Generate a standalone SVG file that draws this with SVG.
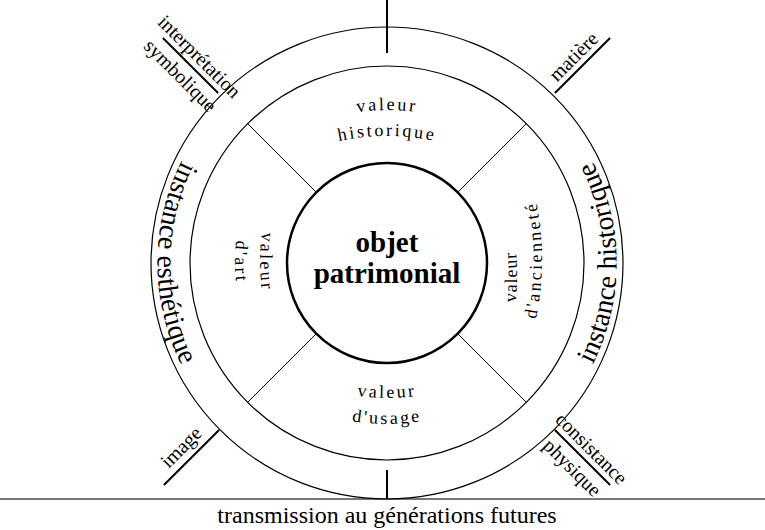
<svg xmlns="http://www.w3.org/2000/svg" width="765" height="530" viewBox="0 0 765 530">
  <style>
    text { font-family: "Liberation Serif", "Times New Roman", serif; fill: #000; }
    .ring { fill: none; stroke: #000; stroke-width: 1.2; }
    .core { fill: #fff; stroke: #000; stroke-width: 2.5; }
    .div { stroke: #000; stroke-width: 1; }
    .axis { stroke: #000; stroke-width: 2; }
    .tick { stroke: #000; stroke-width: 2; }
    .base { stroke: #777; stroke-width: 2; }
    .big { font-size: 28px; }
    .sec { font-size: 18px; letter-spacing: 2.5px; }
    .tight { letter-spacing: 1px; }
    .corner { font-size: 20px; text-anchor: middle; }
    .core-t { font-size: 29px; font-weight: bold; text-anchor: middle; }
  </style>
  <defs>
    <path id="pLeft" d="M 217 109.3 A 228 228 0 0 0 217 416.7"/>
    <path id="pRight" d="M 557 416.7 A 228 228 0 0 0 557 109.3"/>
    <path id="pTop1" d="M 307 126.7 A 200 200 0 0 1 467 126.7"/>
    <path id="pTop2" d="M 297 154.3 A 230 230 0 0 1 477 154.3"/>
    <path id="pBot1" d="M 307 382.9 A 220 220 0 0 0 467 382.9"/>
    <path id="pBot2" d="M 307 408.9 A 220 220 0 0 0 467 408.9"/>
    <path id="pL1" d="M 275.1 182 A 220 220 0 0 0 275.1 342"/>
    <path id="pL2" d="M 250.1 182 A 220 220 0 0 0 250.1 342"/>
    <path id="pR1" d="M 506.1 357 A 300 300 0 0 0 506.1 197"/>
    <path id="pR2" d="M 531.1 340 A 300 300 0 0 0 531.1 180"/>
  </defs>

  <g id="connectors">
    <line class="base" x1="0" y1="499" x2="765" y2="499"/>
    <line class="axis" x1="387" y1="0" x2="387" y2="53"/>
    <line class="axis" x1="387" y1="470" x2="387" y2="499"/>
    <line class="div" x1="316.3" y1="192.3" x2="247.7" y2="123.7"/>
    <line class="div" x1="457.7" y1="192.3" x2="526.3" y2="123.7"/>
    <line class="div" x1="316.3" y1="333.7" x2="247.7" y2="402.3"/>
    <line class="div" x1="457.7" y1="333.7" x2="526.3" y2="402.3"/>
  </g>

  <g id="outer-ring">
    <circle class="ring" cx="387" cy="263" r="236"/>
    <text class="big"><textPath href="#pLeft" startOffset="50%" text-anchor="middle">instance esthétique</textPath></text>
    <text class="big"><textPath href="#pRight" startOffset="50%" text-anchor="middle">instance historique</textPath></text>
  </g>

  <g id="middle-ring">
    <circle class="ring" cx="387" cy="263" r="197"/>
  </g>

  <g id="valeur-historique">
    <text class="sec"><textPath href="#pTop1" startOffset="50%" text-anchor="middle">valeur</textPath></text>
    <text class="sec"><textPath href="#pTop2" startOffset="50%" text-anchor="middle">historique</textPath></text>
  </g>
  <g id="valeur-usage">
    <text class="sec"><textPath href="#pBot1" startOffset="50%" text-anchor="middle">valeur</textPath></text>
    <text class="sec"><textPath href="#pBot2" startOffset="50%" text-anchor="middle">d'usage</textPath></text>
  </g>
  <g id="valeur-art">
    <text class="sec"><textPath href="#pL1" startOffset="50%" text-anchor="middle">valeur</textPath></text>
    <text class="sec"><textPath href="#pL2" startOffset="50%" text-anchor="middle">d'art</textPath></text>
  </g>
  <g id="valeur-anciennete">
    <text class="sec tight"><textPath href="#pR1" startOffset="50%" text-anchor="middle">valeur</textPath></text>
    <text class="sec"><textPath href="#pR2" startOffset="50%" text-anchor="middle">d'ancienneté</textPath></text>
  </g>

  <g id="objet-patrimonial">
    <circle class="core" cx="387" cy="263" r="100"/>
    <text class="core-t" x="387" y="252">objet</text>
    <text class="core-t" x="387" y="283">patrimonial</text>
  </g>

  <g id="interpretation-symbolique" transform="translate(190.5,65.5) rotate(45)">
    <line class="tick" x1="-39" y1="0" x2="39" y2="0"/>
    <text class="corner" x="0" y="-6">interprétation</text>
    <text class="corner" x="0" y="21">symbolique</text>
  </g>
  <g id="matiere" transform="translate(582.5,65.5) rotate(-45)">
    <line class="tick" x1="-39" y1="0" x2="39" y2="0"/>
    <text class="corner" x="0" y="-6">matière</text>
  </g>
  <g id="image" transform="translate(191.5,457.5) rotate(-45)">
    <line class="tick" x1="-39" y1="0" x2="39" y2="0"/>
    <text class="corner" x="0" y="-8">image</text>
  </g>
  <g id="consistance-physique" transform="translate(582.5,457.5) rotate(45)">
    <line class="tick" x1="-39" y1="0" x2="39" y2="0"/>
    <text class="corner" x="0" y="-6">consistance</text>
    <text class="corner" x="0" y="21">physique</text>
  </g>

  <g id="transmission">
    <text x="387" y="523" font-size="24" text-anchor="middle">transmission au générations futures</text>
  </g>
</svg>
